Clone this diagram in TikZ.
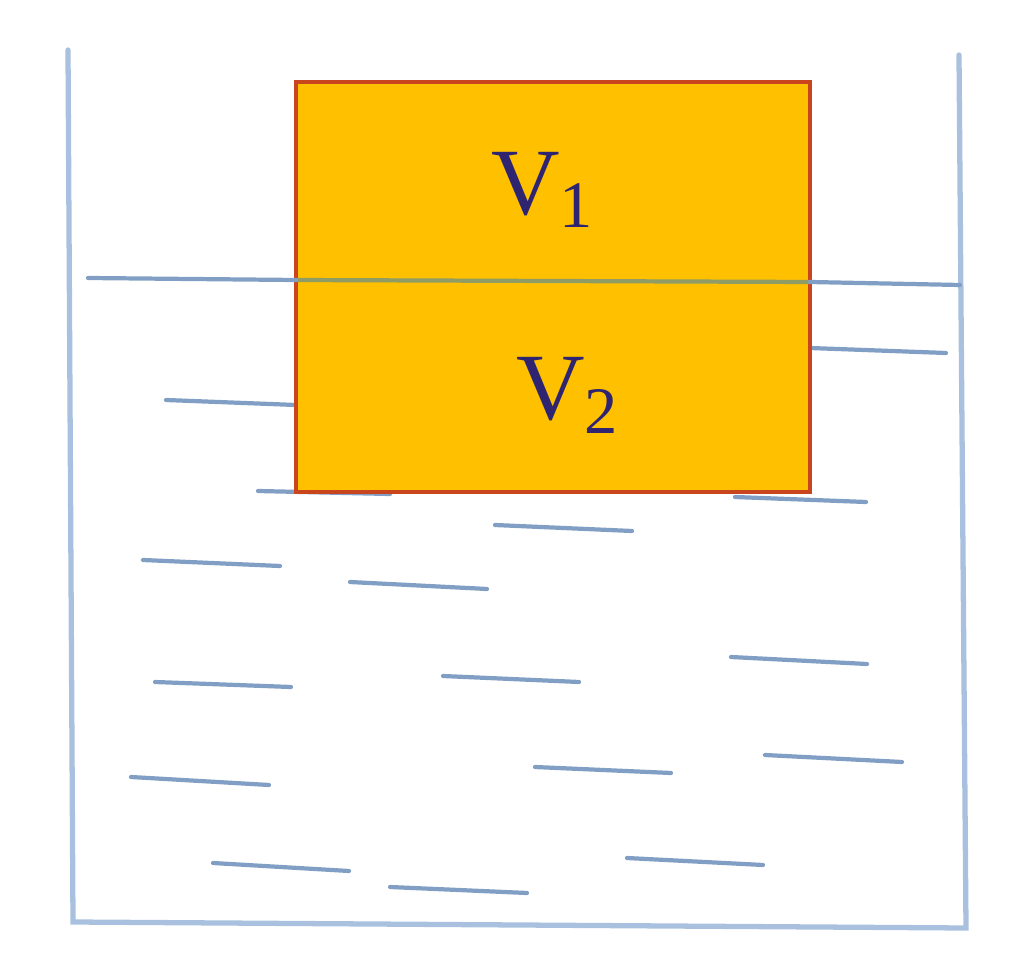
\documentclass[tikz,border=0pt]{standalone}
\usepackage{fontspec}
\setmainfont{Liberation Serif}
\usepackage{tikz}
\usetikzlibrary{positioning}
\definecolor{wallblue}{HTML}{A9C1DF}
\definecolor{waterblue}{HTML}{819FC4}
\definecolor{boxfill}{HTML}{FFC000}
\definecolor{boxedge}{HTML}{C8451E}
\definecolor{cutline}{HTML}{8F9C63}
\definecolor{labelink}{HTML}{2E2470}
\tikzstyle{wall} = [draw=wallblue, line width=1.5pt, line cap=round]
\tikzstyle{ripple} = [draw=waterblue, line width=1.2pt, line cap=round]
\tikzstyle{block} = [draw=boxedge, fill=boxfill, line width=1pt, rectangle, inner sep=0pt, minimum width=5.14cm, minimum height=4.1cm]
\tikzstyle{vol} = [text=labelink, font=\fontsize{27}{30}\selectfont]

\begin{document}
\begin{tikzpicture}[x=0.01cm, y=-0.01cm]
    \useasboundingbox (0,0) rectangle (1024,961);
    % We start by the ripples under the block
    \foreach \xa/\ya/\xb/\yb in {258/491/390/494, 166/400/296/405, 810/348/946/353,
        735/497/866/502, 495/525/632/531, 143/560/280/566, 350/582/487/589,
        155/682/291/687, 443/676/579/682, 731/657/867/664, 131/777/269/785,
        535/767/671/773, 765/755/902/762, 213/863/349/871, 390/887/527/893,
        627/858/763/865}
        \draw[ripple] (\xa,\ya) -- (\xb,\yb);

    % the beaker
    \coordinate (tl) at (68,50);
    \coordinate (bl) at (73,922);
    \coordinate (br) at (966,928);
    \coordinate (tr) at (959,55);
    \draw[wall] (tl) -- (bl) -- (br) -- (tr);

    % the block
    \node [block] (box) at (553,287) {};
    \coordinate (cutl) at (296,280);
    \coordinate (cutr) at (810,282);
    \draw[cutline, line width=1.2pt] (cutl) -- (cutr);
    \node [vol] (v1) at (543,190) {V\textsubscript{1}};
    \node [vol] (v2) at (568,395) {V\textsubscript{2}};

    % water level
    \coordinate (wl) at (88,278);
    \coordinate (wr) at (960,285);
    \draw[ripple] (wl) -- (cutl);
    \draw[ripple] (cutr) -- (wr);
\end{tikzpicture}
\end{document}
